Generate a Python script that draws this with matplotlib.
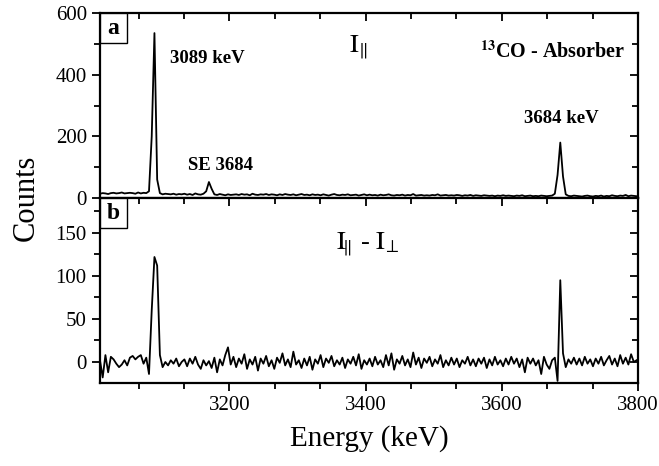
import numpy as np
import matplotlib
matplotlib.use('Agg')
import matplotlib.pyplot as plt
from matplotlib.patches import Rectangle
from matplotlib.ticker import MultipleLocator

plt.rcParams['font.family'] = ['Liberation Serif', 'DejaVu Serif']
plt.rcParams['mathtext.fontset'] = 'stix'

# channel energies (keV), 4 keV per channel
energy = np.arange(3010, 3801, 4)

# panel a: I parallel
counts_par = [
    14, 16, 15, 13, 16, 17, 15, 16, 18, 15,
    16, 17, 16, 14, 18, 15, 17, 16, 22, 200,
    535, 60, 16, 12, 14, 13, 12, 14, 11, 13,
    12, 14, 11, 13, 10, 15, 12, 11, 14, 22,
    52, 30, 12, 10, 13, 11, 9, 12, 10, 11,
    12, 10, 13, 11, 12, 9, 14, 11, 10, 12,
    11, 13, 10, 12, 11, 9, 12, 10, 13, 11,
    10, 12, 9, 11, 13, 10, 11, 9, 12, 10,
    11, 9, 12, 10, 8, 11, 13, 10, 9, 11,
    10, 12, 9, 10, 11, 8, 10, 12, 9, 11,
    9, 10, 8, 11, 9, 10, 12, 9, 8, 10,
    9, 11, 8, 10, 9, 13, 8, 9, 10, 8,
    9, 8, 10, 9, 12, 8, 9, 10, 8, 9,
    8, 10, 9, 7, 9, 8, 10, 7, 9, 8,
    7, 9, 8, 7, 8, 6, 8, 7, 9, 7,
    8, 7, 6, 8, 7, 9, 6, 7, 8, 6,
    7, 6, 8, 7, 6, 7, 8, 14, 75, 180,
    70, 12, 7, 6, 8, 7, 6, 5, 7, 8,
    6, 5, 7, 6, 8, 5, 7, 6, 9, 7,
    6, 8, 7, 10, 6, 8, 7, 6,
]

# panel b: I parallel - I perpendicular
counts_diff = [
    2, -18, 8, -12, 6, 3, -2, -6, -3, 2,
    -4, 5, 7, 3, 6, 8, -2, 5, -14, 60,
    122, 112, 8, -6, 0, -4, 2, -2, 4, -5,
    0, 3, -5, 4, -2, 6, -3, -8, 2, -4,
    1, -7, 5, -12, 3, -4, 8, 17, -3, 6,
    -6, 4, -2, 9, -8, 3, -3, 6, -10, 4,
    -2, 7, -5, 2, -8, 5, -1, 10, -4, 3,
    -6, 12, -3, 2, -7, 4, -4, 6, -9, 3,
    -2, 8, -6, 4, -1, 7, -5, 2, -3, 5,
    -7, 3, -2, 6, -4, 9, -8, 2, -3, 4,
    -5, 6, -3, 2, -6, 8, -4, 10, -9, 3,
    -2, 7, -4, 3, -6, 11, -3, 5, -7, 4,
    -1, 6, -5, 3, -2, 8, -6, 2, -4, 5,
    -3, 4, -6, 2, -2, 6, -4, 3, -5, 4,
    -2, 5, -7, 3, -4, 6, -3, 2, -5, 4,
    -3, 6, -2, 4, -6, 3, -12, 5, -2, 4,
    -4, 2, -14, 6, -3, -8, 2, 5, -22, 95,
    10, -6, 3, -2, 5, -3, 4, -4, 6, -2,
    3, -5, 4, -2, 6, -4, 2, 7, -3, 4,
    -5, 8, -2, 5, -3, 9, 0, 2,
]

fig = plt.figure(figsize=(6.59, 4.66), dpi=100)
ax1 = fig.add_axes([0.1517, 0.575, 0.8163, 0.397])
ax2 = fig.add_axes([0.1517, 0.178, 0.8163, 0.397])

ax1.plot(energy, counts_par, color='black', lw=1.3)
ax2.plot(energy, counts_diff, color='black', lw=1.3)

ax1.set_ylim(0, 600)
ax2.set_ylim(-24.5, 190.5)
for ax in (ax1, ax2):
    ax.set_xlim(3010, 3800)
    ax.xaxis.set_major_locator(MultipleLocator(200))
    ax.xaxis.set_minor_locator(MultipleLocator(200 / 3))
    for s in ax.spines.values():
        s.set_linewidth(1.6)
    ax.tick_params(which='both', direction='out', width=1.3, labelsize=15,
                   top=True, right=True)
    ax.tick_params(which='major', length=6)
    ax.tick_params(which='minor', length=4)

ax1.yaxis.set_major_locator(MultipleLocator(200))
ax1.yaxis.set_minor_locator(MultipleLocator(100))
ax2.yaxis.set_major_locator(MultipleLocator(50))
ax2.yaxis.set_minor_locator(MultipleLocator(25))
ax2.set_yticks([0, 50, 100, 150])
ax1.tick_params(labelbottom=False)

# top and right ticks point inward
for ax in (ax1, ax2):
    for t in ax.xaxis.get_major_ticks() + ax.xaxis.get_minor_ticks():
        t.tick2line.set_marker(3)
    for t in ax.yaxis.get_major_ticks() + ax.yaxis.get_minor_ticks():
        t.tick2line.set_marker(0)

# panel letters
for ax, letter in ((ax1, 'a'), (ax2, 'b')):
    ax.add_patch(Rectangle((0, 1 - 0.162), 0.05, 0.162, transform=ax.transAxes,
                           fc='white', ec='black', lw=1.0, zorder=5))
    ax.text(0.025, 1 - 0.081, letter, transform=ax.transAxes, ha='center',
            va='center', fontsize=17, fontweight='bold', zorder=6)

ax1.text(3167, 454, '3089 keV', ha='center', va='center', fontsize=13.5,
         fontweight='bold')
ax1.text(3187, 107, 'SE 3684', ha='center', va='center', fontsize=13.5,
         fontweight='bold')
ax1.text(3687, 259, '3684 keV', ha='center', va='center', fontsize=13.5,
         fontweight='bold')
ax1.text(3782, 473, r'$^{\mathbf{13}}$CO - Absorber', ha='right', va='center',
         fontsize=14.5, fontweight='bold')
ax1.text(3375, 470, r'$\mathrm{I}_{\Vert}$', ha='left', va='baseline',
         fontsize=19)
ax2.text(3356, 130, r'$\mathrm{I}_{\!\Vert}$ - $\mathrm{I}_{\!\perp}$', ha='left',
         va='baseline', fontsize=19)

fig.text(0.04, 0.575, 'Counts', rotation=90, ha='center', va='center',
         fontsize=22)
fig.text(0.56, 0.058, 'Energy (keV)', ha='center', va='center', fontsize=21)

fig.savefig('out.png', dpi=100)
